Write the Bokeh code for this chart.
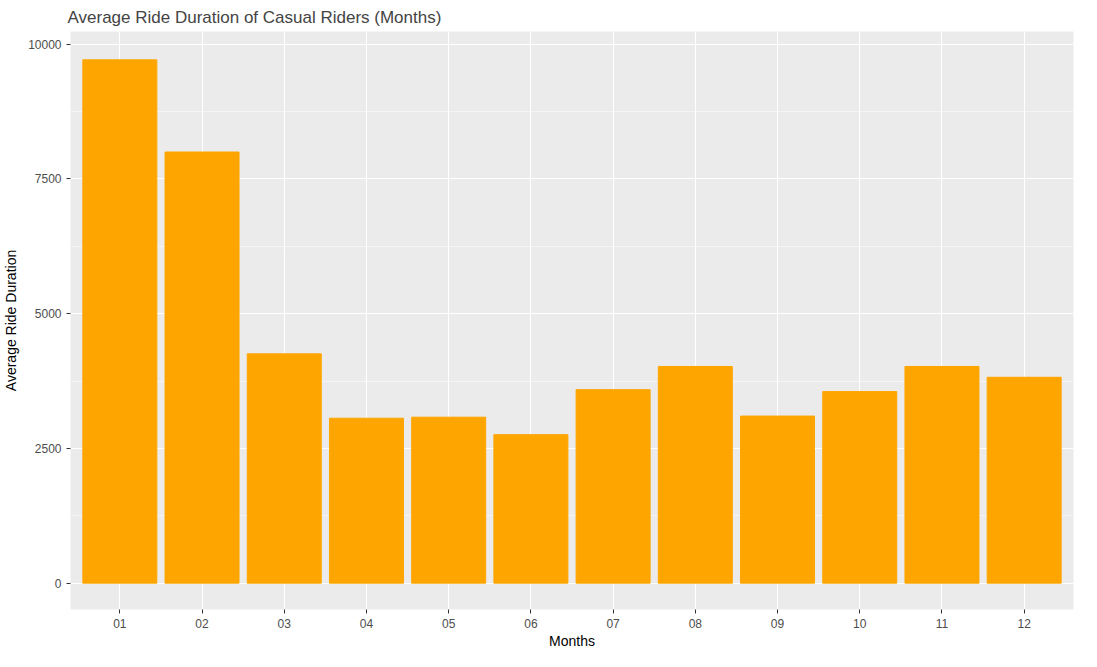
from bokeh.plotting import figure
from bokeh.models import FixedTicker, Range1d
from bokeh.embed import file_html
from bokeh.resources import INLINE

months = ["01", "02", "03", "04", "05", "06", "07", "08", "09", "10", "11", "12"]
avg_duration = [9710, 8000, 4255, 3060, 3080, 2755, 3590, 4020, 3100, 3555, 4020, 3820]
y_ticks = [0, 2500, 5000, 7500, 10000]

xs = list(range(1, len(months) + 1))

p = figure(width=1081, height=651, output_backend="svg", toolbar_location=None,
           title="Average Ride Duration of Casual Riders (Months)",
           x_range=Range1d(0.4, 12.6), y_range=Range1d(-489, 10236),
           min_border_left=10, min_border_right=8, min_border_top=5, min_border_bottom=5)

p.vbar(x=xs, top=avg_duration, bottom=0, width=0.9, color="#FFA500")

p.background_fill_color = "#EBEBEB"
p.border_fill_color = "white"
p.outline_line_color = None

p.title.text_font = "Liberation Sans"
p.title.text_font_size = "17px"
p.title.text_font_style = "normal"
p.title.offset = -3

p.xaxis.ticker = FixedTicker(ticks=xs)
p.xaxis.major_label_overrides = {x: m for x, m in zip(xs, months)}
p.yaxis.ticker = FixedTicker(ticks=y_ticks, minor_ticks=[1250, 3750, 6250, 8750])
p.xaxis.axis_label = "Months"
p.yaxis.axis_label = "Average Ride Duration"

for ax in (p.xaxis, p.yaxis):
    ax.axis_line_color = None
    ax.major_tick_line_color = "#333333"
    ax.major_tick_in = 0
    ax.major_tick_out = 4
    ax.minor_tick_line_color = None
    ax.major_label_text_color = "#4D4D4D"
    ax.major_label_text_font = "Liberation Sans"
    ax.major_label_text_font_size = "12px"
    ax.axis_label_text_font = "Liberation Sans"
    ax.axis_label_text_font_size = "14px"
    ax.axis_label_text_font_style = "normal"
    ax.axis_label_text_color = "black"
p.xaxis.axis_label_standoff = 2
p.yaxis.axis_label_standoff = 6

p.grid.grid_line_color = "white"
p.grid.grid_line_width = 1.1
p.ygrid.minor_grid_line_color = "white"
p.ygrid.minor_grid_line_width = 0.5

open("out.html", "w").write(file_html(p, INLINE))
